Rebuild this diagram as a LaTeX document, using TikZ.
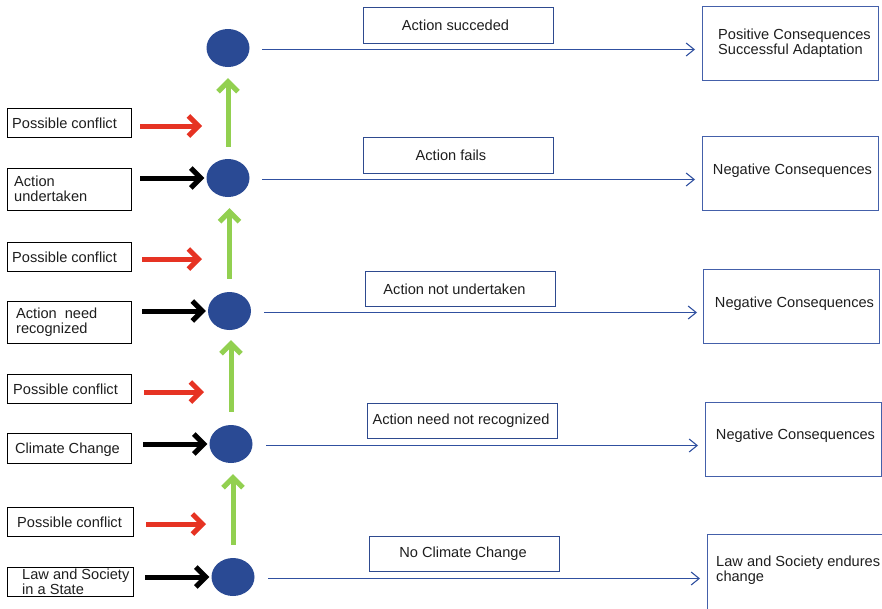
\documentclass[tikz,border=0pt]{standalone}
\usepackage{fontspec}
\setmainfont{Liberation Sans}
\usetikzlibrary{arrows.meta,shapes.geometric}
\definecolor{dotblue}{HTML}{2A4A94}
\definecolor{lineblue}{HTML}{3050A0}
\definecolor{midborder}{HTML}{2E4A8F}
\definecolor{rightborder}{HTML}{4460AA}
\definecolor{grn}{HTML}{92D050}
\definecolor{rd}{HTML}{E63323}
\definecolor{txt}{HTML}{1E1E1E}
\begin{document}
\begin{tikzpicture}[x=1pt,y=-1pt,
  txtstyle/.style={inner sep=0pt,text=txt,font=\fontsize{14.6}{15}\selectfont,align=left},
  leftbox/.style={draw=black,line width=1.2pt,inner sep=0pt,anchor=north west},
  midbox/.style={draw=midborder,line width=1.4pt,inner sep=0pt,anchor=north west},
  rightbox/.style={draw=rightborder,line width=1.4pt,inner sep=0pt,anchor=north west},
  dot/.style={ellipse,fill=dotblue,minimum width=43pt,minimum height=38pt,inner sep=0pt},
  flow/.style={draw=lineblue,line width=1.1pt,-{Straight Barb[length=8pt,width=13pt]}},
  grarrow/.style={draw=grn,line width=5pt,-{Straight Barb[length=10pt,width=20pt]}},
  rdarrow/.style={draw=rd,line width=5pt,-{Straight Barb[length=10pt,width=20pt]}},
  bkarrow/.style={draw=black,line width=5pt,-{Straight Barb[length=10pt,width=20pt]}}
]
\useasboundingbox (0,0) rectangle (882,608);
\clip (0,0) rectangle (882,608);

% dots
\node[dot] (d1) at (228,48) {};
\node[dot] (d2) at (228,178) {};
\node[dot] (d3) at (229.5,311) {};
\node[dot] (d4) at (231,444) {};
\node[dot] (d5) at (233,577) {};

% left boxes
\node[leftbox,minimum width=124pt,minimum height=29pt] (pc1) at (7,108) {};
\node[leftbox,minimum width=124pt,minimum height=42pt] (au) at (7,168) {};
\node[leftbox,minimum width=124pt,minimum height=29pt] (pc2) at (7,242) {};
\node[leftbox,minimum width=124pt,minimum height=42pt] (anr) at (7,301) {};
\node[leftbox,minimum width=124pt,minimum height=29pt] (pc3) at (7,374) {};
\node[leftbox,minimum width=124pt,minimum height=30pt] (cc) at (7,433) {};
\node[leftbox,minimum width=126pt,minimum height=29pt] (pc4) at (7,507) {};
\node[leftbox,minimum width=126pt,minimum height=29pt] (ls) at (7,567) {};

\node[txtstyle,anchor=west] (pc1t) at (12,123) {Possible conflict};
\node[txtstyle,anchor=west] (aut) at (14,189) {Action\\undertaken};
\node[txtstyle,anchor=west] (pc2t) at (12,257) {Possible conflict};
\node[txtstyle,anchor=west] (anrt) at (16,322.5) {Action~ need\\recognized};
\node[txtstyle,anchor=west] (pc3t) at (13,389) {Possible conflict};
\node[txtstyle,anchor=west] (cct) at (15,449.5) {Climate Change};
\node[txtstyle,anchor=west] (pc4t) at (17,522) {Possible conflict};
\node[txtstyle,anchor=west] (lst) at (22,582) {Law and Society\\in a State};

% middle boxes
\node[midbox,minimum width=190pt,minimum height=36pt] (mb1) at (363,7) {};
\node[midbox,minimum width=190pt,minimum height=36pt] (mb2) at (363,137) {};
\node[midbox,minimum width=190pt,minimum height=35pt] (mb3) at (365,271) {};
\node[midbox,minimum width=190pt,minimum height=35pt] (mb4) at (367,403) {};
\node[midbox,minimum width=190pt,minimum height=35pt] (mb5) at (369,536) {};

\node[txtstyle] (mb1t) at (455.5,25.5) {Action succeded};
\node[txtstyle] (mb2t) at (451,155.5) {Action fails};
\node[txtstyle] (mb3t) at (454.5,289) {Action not undertaken};
\node[txtstyle] (mb4t) at (461,421) {Action need not recognized};
\node[txtstyle] (mb5t) at (463,554) {No Climate Change};

% right boxes
\node[rightbox,minimum width=176pt,minimum height=74pt] (rb1) at (702,6) {};
\node[rightbox,minimum width=176pt,minimum height=74pt] (rb2) at (702,136) {};
\node[rightbox,minimum width=176pt,minimum height=74pt] (rb3) at (703,269) {};
\node[rightbox,minimum width=176pt,minimum height=74pt] (rb4) at (705,402) {};
\node[rightbox,minimum width=178pt,minimum height=78pt] (rb5) at (707,534) {};

\node[txtstyle,anchor=west] (rb1t) at (718,43.5) {Positive Consequences\\Successful Adaptation};
\node[txtstyle] (rb2t) at (792.5,171) {Negative Consequences};
\node[txtstyle] (rb3t) at (794.5,304) {Negative Consequences};
\node[txtstyle] (rb4t) at (795.5,436) {Negative Consequences};
\node[txtstyle,anchor=west] (rb5t) at (716,570) {Law and Society endures\\change};

% blue flow lines
\draw[flow,shorten <=12.5pt,shorten >=7pt] ([yshift=-1.5pt]d1.east) -- ([yshift=-1.5pt]d1.east -| rb1.west);
\draw[flow,shorten <=12.5pt,shorten >=7pt] ([yshift=-1.5pt]d2.east) -- ([yshift=-1.5pt]d2.east -| rb2.west);
\draw[flow,shorten <=13pt,shorten >=6pt] ([yshift=-1.5pt]d3.east) -- ([yshift=-1.5pt]d3.east -| rb3.west);
\draw[flow,shorten <=13.5pt,shorten >=7pt] ([yshift=-1.5pt]d4.east) -- ([yshift=-1.5pt]d4.east -| rb4.west);
\draw[flow,shorten <=13.5pt,shorten >=7pt] ([yshift=-1.5pt]d5.east) -- ([yshift=-1.5pt]d5.east -| rb5.west);

% green arrows
\draw[grarrow,shorten <=12pt,shorten >=11pt] (d2.north) -- (d2.north |- d1.south);
\draw[grarrow,shorten <=13pt,shorten >=11pt] (d3.north) -- (d3.north |- d2.south);
\draw[grarrow,shorten <=13pt,shorten >=10pt] (d4.north) -- (d4.north |- d3.south);
\draw[grarrow,shorten <=13pt,shorten >=11pt] (d5.north) -- (d5.north |- d4.south);

% red arrows
\coordinate (r1a) at (140,126); \coordinate (r1b) at (202,126);
\coordinate (r2a) at (142,259); \coordinate (r2b) at (202,259);
\coordinate (r3a) at (144,392); \coordinate (r3b) at (204,392);
\coordinate (r4a) at (146,524); \coordinate (r4b) at (206,524);
\draw[rdarrow] (r1a) -- (r1b);
\draw[rdarrow] (r2a) -- (r2b);
\draw[rdarrow] (r3a) -- (r3b);
\draw[rdarrow] (r4a) -- (r4b);

% black arrows
\coordinate (k1) at (140,178);
\coordinate (k2) at (142,311);
\coordinate (k3) at (143,444);
\coordinate (k4) at (145,577);
\draw[bkarrow,shorten >=2pt] (k1) -- (d2.west);
\draw[bkarrow,shorten >=2pt] (k2) -- (d3.west);
\draw[bkarrow,shorten >=2pt] (k3) -- (d4.west);
\draw[bkarrow,shorten >=2pt] (k4) -- (d5.west);
\end{tikzpicture}
\end{document}
